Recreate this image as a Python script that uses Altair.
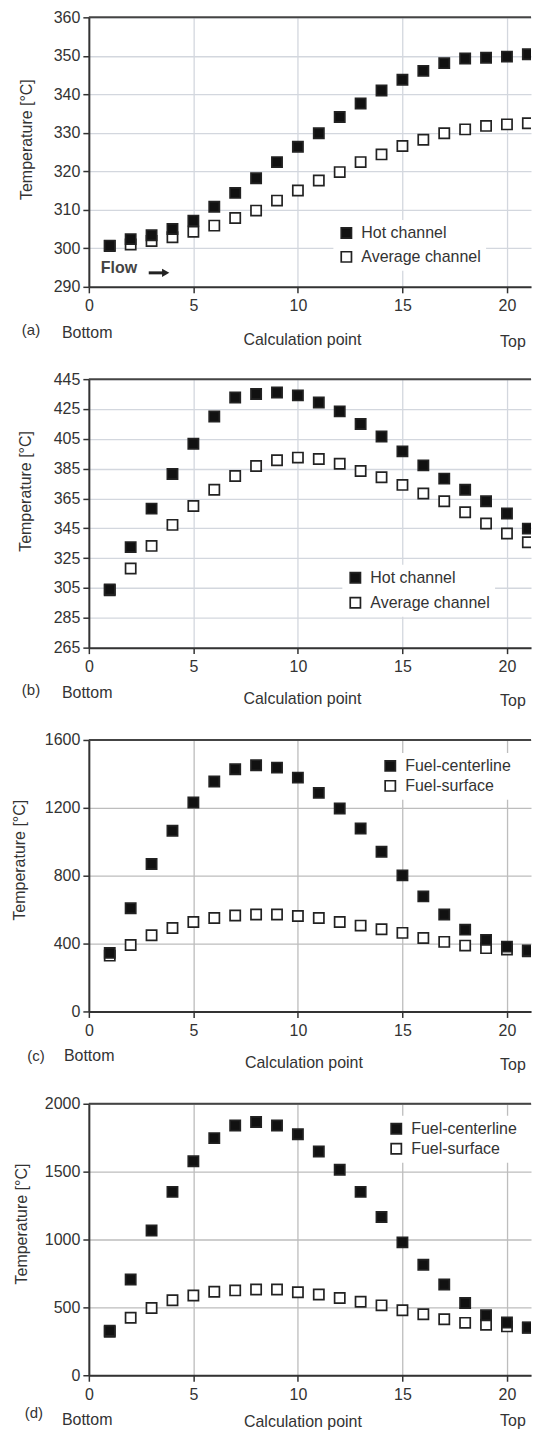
import altair as alt
import pandas as pd

# ---------------- data ----------------
points = list(range(1, 22))

a_names = ["Hot channel", "Average channel"]
a_hot = [300.7, 302.4, 303.4, 305.0, 307.2, 310.8, 314.4, 318.2, 322.4, 326.4, 329.9,
         334.1, 337.6, 341.0, 343.8, 346.1, 348.1, 349.3, 349.5, 349.8, 350.4]
a_avg = [300.6, 301.0, 301.9, 302.9, 304.3, 305.9, 307.9, 309.8, 312.4, 315.0, 317.6,
         319.8, 322.4, 324.4, 326.6, 328.2, 329.9, 330.9, 331.8, 332.2, 332.5]
a_ticks = [290, 300, 310, 320, 330, 340, 350, 360]

b_names = ["Hot channel", "Average channel"]
b_hot = [304.0, 332.4, 358.2, 381.4, 401.7, 420.0, 432.7, 435.0, 436.1, 434.1, 429.4,
         423.4, 414.9, 406.6, 396.6, 387.2, 378.3, 370.9, 363.1, 354.9, 344.8]
b_avg = [303.5, 318.1, 333.2, 347.3, 360.0, 370.9, 380.1, 386.8, 390.6, 392.4, 391.5,
         388.3, 383.4, 379.2, 374.1, 368.3, 363.1, 355.8, 348.2, 341.5, 335.7]
b_ticks = [265, 285, 305, 325, 345, 365, 385, 405, 425, 445]

c_names = ["Fuel-centerline", "Fuel-surface"]
c_center = [345, 608, 869, 1065, 1231, 1355, 1427, 1451, 1437, 1378, 1288,
            1196, 1078, 941, 802, 678, 571, 482, 422, 382, 359]
c_surface = [329, 392, 449, 492, 527, 551, 565, 571, 571, 563, 551,
             527, 506, 484, 463, 433, 410, 388, 373, 365, 355]
c_ticks = [0, 400, 800, 1200, 1600]

d_names = ["Fuel-centerline", "Fuel-surface"]
d_center = [328, 705, 1067, 1351, 1577, 1747, 1840, 1866, 1840, 1776, 1648,
            1514, 1351, 1166, 979, 814, 668, 532, 442, 389, 352]
d_surface = [320, 423, 496, 552, 588, 615, 625, 632, 632, 612, 595,
             569, 542, 515, 479, 450, 413, 386, 372, 360, 350]
d_ticks = [0, 500, 1000, 1500, 2000]

x_ticks = [0, 5, 10, 15, 20]

# ---------------- styling ----------------
FONT = "Liberation Sans"
TXT = "#333333"
W = 443
XMAX = 21.15
ONE = alt.Data(values=[{"k": 0}])


def label(text, x, y, size=16, align="center", weight="normal", color=TXT):
    return alt.Chart(ONE).mark_text(
        text=text, font=FONT, fontSize=size, fontWeight=weight, color=color,
        align=align, baseline="middle",
    ).encode(x=alt.value(x), y=alt.value(y))


def panel(hot, avg, names, ticks, h, grid_color, letter, cfg, flow=False):
    df = pd.DataFrame({
        "point": points + points,
        "temp": avg + hot,
        "series": [names[1]] * len(avg) + [names[0]] * len(hot),
        "layer": [0] * len(avg) + [1] * len(hot),
    })
    xscale = alt.Scale(domain=[0, XMAX], nice=False, zero=False)
    yscale = alt.Scale(domain=[ticks[0], ticks[-1]], nice=False, zero=False)
    xaxis = alt.Axis(
        values=x_ticks, title="Calculation point", titleX=cfg["calc_x"], titleY=cfg["calc_y"],
        titleBaseline="middle", titleAlign="center", titleFont=FONT, titleFontSize=16,
        titleFontWeight="normal", titleColor=TXT, labelFont=FONT, labelFontSize=16,
        labelColor=TXT, labelPadding=5, tickSize=6, tickWidth=1.5, tickColor="#333",
        domainColor="#333", domainWidth=2, gridColor=grid_color, gridWidth=1.3,
        labelFlush=False, format="d",
    )
    yaxis = alt.Axis(
        values=ticks, title="Temperature [°C]", titleX=cfg["ytitle_x"], titleY=cfg["ytitle_y"],
        titleAngle=-90, titleBaseline="middle", titleAlign="center", titleFont=FONT,
        titleFontSize=16, titleFontWeight="normal", titleColor=TXT, labelFont=FONT,
        labelFontSize=16, labelColor=TXT, labelPadding=3, tickSize=6, tickWidth=1.5,
        tickColor="#333", domainColor="#333", domainWidth=2, gridColor=grid_color,
        gridWidth=1.3, labelFlush=False, format="d",
    )
    x_enc = alt.X("point:Q", scale=xscale, axis=xaxis)
    y_enc = alt.Y("temp:Q", scale=yscale, axis=yaxis)

    top_border = alt.Chart(pd.DataFrame({"temp": [ticks[-1]]})).mark_rule(
        color="#444", strokeWidth=2
    ).encode(y=y_enc)

    pts = alt.Chart(df).mark_square(
        size=105, stroke="#222", strokeWidth=1.7, opacity=1, clip=True
    ).encode(
        x=x_enc,
        y=y_enc,
        fill=alt.Fill(
            "series:N",
            scale=alt.Scale(domain=names, range=["#111111", "#ffffff"]),
            legend=alt.Legend(
                title=None, orient="none", legendX=cfg["leg_x"], legendY=cfg["leg_y"],
                fillColor="white", padding=5, labelFont=FONT, labelFontSize=16,
                labelColor=TXT, symbolType="square", symbolSize=105,
                symbolStrokeColor="#222", symbolStrokeWidth=1.7, symbolOpacity=1,
                rowPadding=cfg["row_pad"], labelOffset=7, labelLimit=300,
            ),
        ),
        order=alt.Order("layer:Q"),
    )

    layers = [top_border, pts,
              label(letter, cfg["let_x"], h + cfg["let_y"], size=15),
              label("Bottom", cfg["bot_x"], h + cfg["bot_y"], align="left"),
              label("Top", cfg["top_x"], h + cfg["top_y"], align="left")]
    if flow:
        layers.append(label("Flow", 12, 251, size=16, align="left", weight="bold", color="#444"))
        layers.append(alt.Chart(ONE).mark_rule(color="#222", strokeWidth=3).encode(
            x=alt.value(60), x2=alt.value(75), y=alt.value(256)))
        layers.append(alt.Chart(ONE).mark_point(
            shape="triangle-right", filled=True, color="#222", size=70, opacity=1
        ).encode(x=alt.value(77), y=alt.value(256)))
    return alt.layer(*layers).properties(width=W, height=h)


pa = panel(a_hot, a_avg, a_names, a_ticks, 270, "#d3d7de", "(a)", dict(
    calc_x=213.5, calc_y=53, ytitle_x=-62, ytitle_y=122, leg_x=245, leg_y=203, row_pad=6,
    let_x=-58, let_y=43, bot_x=-27, bot_y=46, top_x=412, top_y=55), flow=True)
pb = panel(b_hot, b_avg, b_names, b_ticks, 269, "#d3d7de", "(b)", dict(
    calc_x=213.5, calc_y=51, ytitle_x=-63, ytitle_y=112, leg_x=254, leg_y=186, row_pad=7,
    let_x=-58, let_y=42, bot_x=-27, bot_y=45, top_x=412, top_y=53))
pc = panel(c_center, c_surface, c_names, c_ticks, 272, "#bdbdbd", "(c)", dict(
    calc_x=215, calc_y=51, ytitle_x=-69, ytitle_y=120, leg_x=289, leg_y=13, row_pad=2,
    let_x=-53, let_y=45, bot_x=-25, bot_y=45, top_x=412, top_y=54))
pdd = panel(d_center, d_surface, d_names, d_ticks, 272, "#bdbdbd", "(d)", dict(
    calc_x=214, calc_y=46, ytitle_x=-67, ytitle_y=120, leg_x=295, leg_y=12, row_pad=2,
    let_x=-55, let_y=38, bot_x=-27, bot_y=45, top_x=412, top_y=46))

chart = alt.vconcat(pa, pb, pc, pdd, spacing=92.5, bounds="flush").resolve_scale(
    fill="independent", x="independent", y="independent"
).resolve_legend(fill="independent").properties(
    padding={"left": 3, "top": 0, "right": 0, "bottom": 0},
    background="white",
).configure_view(stroke=None)

chart.save("out.html", embed_options={"renderer": "svg", "actions": False})
